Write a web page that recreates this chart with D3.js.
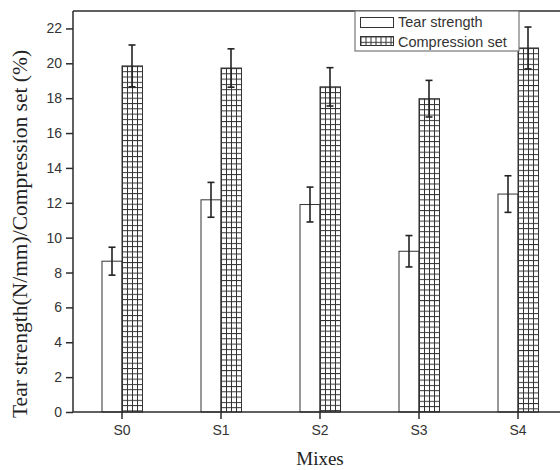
<!DOCTYPE html>
<html>
<head>
<meta charset="utf-8">
<script src="https://cdn.jsdelivr.net/npm/d3@7"></script>
<style>
  html, body { margin: 0; padding: 0; background: #fff; }
  svg { display: block; }
</style>
</head>
<body>
<svg id="chart" width="560" height="470"></svg>
<script>
// ---- data ----
const categories = ["S0", "S1", "S2", "S3", "S4"];
const tearStrength = [8.65, 12.17, 11.9, 9.22, 12.5];
const tearErr = [0.8, 1.0, 1.0, 0.9, 1.05];
const compressionSet = [19.85, 19.73, 18.65, 17.97, 20.88];
const compressionErr = [1.2, 1.1, 1.1, 1.05, 1.2];
const yTicks = [0, 2, 4, 6, 8, 10, 12, 14, 16, 18, 20, 22];
const seriesNames = ["Tear strength", "Compression set"];

(function () {
const svg = d3.select("#chart");
const plotLeft = 73, plotTop = 11, plotBottom = 412;
const dark = "#2b2b2b";

const x = d3.scaleBand().domain(categories).range([72.5, 567.5]).paddingInner(0).paddingOuter(0);
const y = d3.scaleLinear().domain([0, 23]).range([plotBottom, plotTop]);
const barW = 20;

const defs = svg.append("defs");
function hatch(id, x0, y0) {
  const p = defs.append("pattern").attr("id", id)
    .attr("patternUnits", "userSpaceOnUse")
    .attr("x", x0).attr("y", y0)
    .attr("width", 5).attr("height", 5.3);
  p.append("rect").attr("width", 5).attr("height", 5.3).attr("fill", "#fff");
  p.append("line").attr("x1", 0.5).attr("x2", 0.5).attr("y1", 0).attr("y2", 5.3).attr("stroke", "#333").attr("stroke-width", 1);
  p.append("line").attr("x1", 0).attr("x2", 5).attr("y1", 0.5).attr("y2", 0.5).attr("stroke", "#333").attr("stroke-width", 1);
}

// top frame line
svg.append("line").attr("x1", plotLeft).attr("x2", 560).attr("y1", plotTop).attr("y2", plotTop)
  .attr("stroke", dark).attr("stroke-width", 1.5);

// bars
categories.forEach((c, i) => {
  const cx = x(c) + x.bandwidth() / 2;
  svg.append("rect").attr("x", cx - barW).attr("y", y(tearStrength[i]))
    .attr("width", barW).attr("height", y(0) - y(tearStrength[i]))
    .attr("fill", "#fff").attr("stroke", "#333").attr("stroke-width", 1);
  const pid = "hatch" + i;
  hatch(pid, cx, y(compressionSet[i]));
  svg.append("rect").attr("x", cx).attr("y", y(compressionSet[i]))
    .attr("width", barW + 0.5).attr("height", y(0) - y(compressionSet[i]))
    .attr("fill", "url(#" + pid + ")").attr("stroke", "#333").attr("stroke-width", 1);
});

// error bars
function errBar(cx, v, e) {
  const g = svg.append("g").attr("stroke", "#222").attr("stroke-width", 1.6);
  g.append("line").attr("x1", cx).attr("x2", cx).attr("y1", y(v + e)).attr("y2", y(v - e));
  g.append("line").attr("x1", cx - 3.5).attr("x2", cx + 3.5).attr("y1", y(v + e)).attr("y2", y(v + e));
  g.append("line").attr("x1", cx - 3.5).attr("x2", cx + 3.5).attr("y1", y(v - e)).attr("y2", y(v - e));
}
categories.forEach((c, i) => {
  const cx = x(c) + x.bandwidth() / 2;
  errBar(cx - barW / 2, tearStrength[i], tearErr[i]);
  errBar(cx + barW / 2, compressionSet[i], compressionErr[i]);
});

// axes
const yAxis = svg.append("g").attr("transform", `translate(${plotLeft},0)`)
  .call(d3.axisLeft(y).tickValues(yTicks).tickSize(7).tickSizeOuter(0).tickPadding(4));
yAxis.select(".domain").attr("d", `M0,${plotTop}V${plotBottom}`).attr("stroke", dark).attr("stroke-width", 1.5);
yAxis.selectAll(".tick line").attr("stroke", dark).attr("stroke-width", 1.5);
yAxis.selectAll(".tick text").attr("font-family", "Liberation Sans, Arial, sans-serif")
  .attr("font-size", 14).attr("fill", "#333");

const xAxis = svg.append("g").attr("transform", `translate(0,${plotBottom})`)
  .call(d3.axisBottom(x).tickSize(7).tickSizeOuter(0).tickPadding(6));
xAxis.select(".domain").attr("d", `M${plotLeft},0H560`).attr("stroke", dark).attr("stroke-width", 1.5);
xAxis.selectAll(".tick line").attr("stroke", dark).attr("stroke-width", 1.5);
xAxis.selectAll(".tick text").attr("font-family", "Liberation Sans, Arial, sans-serif")
  .attr("font-size", 14).attr("fill", "#333");

// axis titles
svg.append("text").attr("transform", "translate(27,234) rotate(-90)")
  .attr("text-anchor", "middle").attr("font-family", "Liberation Serif, Times New Roman, serif")
  .attr("font-size", 21.5).attr("fill", "#222")
  .text("Tear strength(N/mm)/Compression set (%)");
svg.append("text").attr("x", 320).attr("y", 465)
  .attr("text-anchor", "middle").attr("font-family", "Liberation Serif, Times New Roman, serif")
  .attr("font-size", 19).attr("fill", "#222")
  .text("Mixes");

// legend
const lg = svg.append("g");
lg.append("rect").attr("x", 355).attr("y", plotTop).attr("width", 164).attr("height", 40)
  .attr("fill", "#fff").attr("stroke", "#777").attr("stroke-width", 1.2);
lg.append("rect").attr("x", 360.5).attr("y", 17.5).attr("width", 33).attr("height", 10)
  .attr("fill", "#fff").attr("stroke", "#333").attr("stroke-width", 1);
hatch("hatchLegend", 360.5, 36.5);
lg.append("rect").attr("x", 360.5).attr("y", 36.5).attr("width", 33).attr("height", 9)
  .attr("fill", "url(#hatchLegend)").attr("stroke", "#333").attr("stroke-width", 1);
seriesNames.forEach((n, i) => {
  lg.append("text").attr("x", 398).attr("y", 27 + i * 19.5)
    .attr("font-family", "Liberation Sans, Arial, sans-serif").attr("font-size", 14.5)
    .attr("fill", "#333").text(n);
});
})();
</script>
</body>
</html>
